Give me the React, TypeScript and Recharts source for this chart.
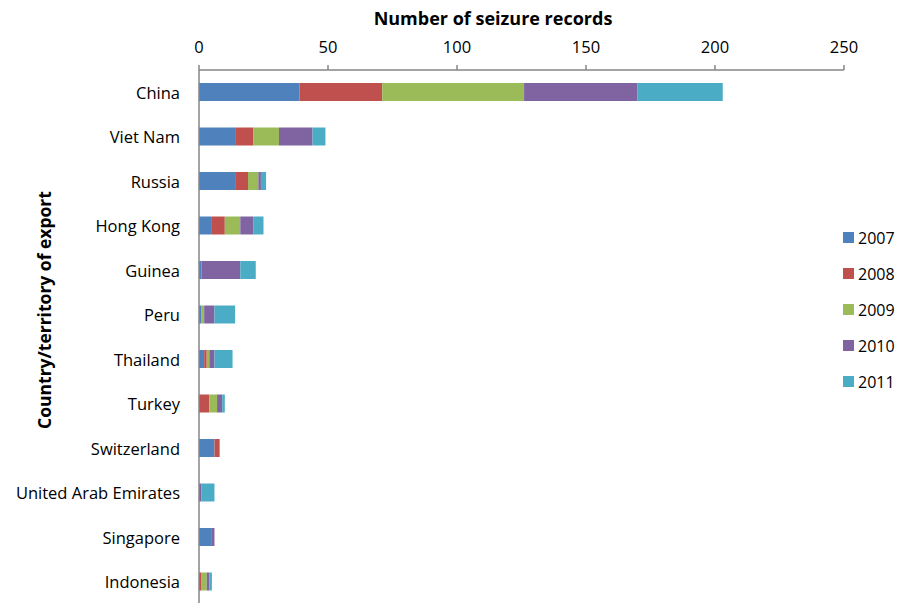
import { Bar, BarChart, XAxis, YAxis } from 'recharts'

const countries = [
  'China',
  'Viet Nam',
  'Russia',
  'Hong Kong',
  'Guinea',
  'Peru',
  'Thailand',
  'Turkey',
  'Switzerland',
  'United Arab Emirates',
  'Singapore',
  'Indonesia',
]
const years = ['2007', '2008', '2009', '2010', '2011']
const y2007 = [39, 14, 14, 5, 1, 1, 2, 0, 6, 0, 5, 0]
const y2008 = [32, 7, 5, 5, 0, 0, 1, 4, 2, 0, 0, 1]
const y2009 = [55, 10, 4, 6, 0, 1, 1, 3, 0, 0, 0, 2]
const y2010 = [44, 13, 1, 5, 15, 4, 2, 2, 0, 1, 1, 1]
const y2011 = [33, 5, 2, 4, 6, 8, 7, 1, 0, 5, 0, 1]
const xTicks = [0, 50, 100, 150, 200, 250]
// band edges, where the spreadsheet draws its category tick marks
const bandEdges = [0, 1, 2, 3, 4, 5, 6, 7, 8, 9, 10, 11, 12]

const COLORS = ['#4F81BD', '#C0504D', '#9BBB59', '#8064A2', '#4BACC6']
const FONT = '"Open Sans", sans-serif'
const AXIS = '#868686'

const W = 904
const H = 612
const M = { top: 4, right: 60, bottom: 8, left: 0 }
const PLOT_LEFT = 199
const PLOT_TOP = 70

const data = countries.map((c, i) => ({
  country: c,
  '2007': y2007[i],
  '2008': y2008[i],
  '2009': y2009[i],
  '2010': y2010[i],
  '2011': y2011[i],
}))

function CountryTick(props: { y?: number; payload?: { value: string } }) {
  return (
    <text x={PLOT_LEFT - 19} y={props.y} textAnchor="end" dominantBaseline="central" fontSize={16.5} fontFamily={FONT} fill="#000">
      {props.payload?.value}
    </text>
  )
}

function YearLegend() {
  return (
    <div style={{ position: 'absolute', left: 843, top: 220, fontFamily: FONT, fontSize: 16, color: '#000' }}>
      {years.map((yr, i) => (
        <div key={yr} style={{ display: 'flex', alignItems: 'center', height: 35.9 }}>
          <span style={{ width: 11, height: 11, background: COLORS[i], marginRight: 4, display: 'inline-block' }} />
          <span>{yr}</span>
        </div>
      ))}
    </div>
  )
}

export default function App() {
  return (
    <div style={{ margin: -8, width: W, height: H, background: '#fff', position: 'relative' }}>
      <BarChart width={W} height={H} data={data} layout="vertical" margin={M} barCategoryGap={0}>
        <XAxis
          type="number"
          orientation="top"
          domain={[0, 250]}
          ticks={xTicks}
          interval={0}
          height={PLOT_TOP - M.top}
          tickSize={5}
          tickMargin={12}
          axisLine={{ stroke: AXIS, strokeWidth: 1.5 }}
          tickLine={{ stroke: AXIS, strokeWidth: 1.5 }}
          tick={{ fill: '#000', fontSize: 16.5, fontFamily: FONT }}
          label={() => (
            <text
              x={493}
              y={18}
              textAnchor="middle"
              dominantBaseline="central"
              fontSize={18}
              fontWeight="bold"
              fontFamily={FONT}
              fill="#000"
            >
              Number of seizure records
            </text>
          )}
        />
        <YAxis
          yAxisId="edges"
          type="number"
          domain={[0, countries.length]}
          ticks={bandEdges}
          interval={0}
          width={0}
          tickSize={7}
          tick={false}
          axisLine={false}
          tickLine={{ stroke: AXIS, strokeWidth: 1.5 }}
        />
        <YAxis
          yAxisId="cat"
          type="category"
          dataKey="country"
          width={PLOT_LEFT}
          interval={0}
          tickLine={false}
          axisLine={{ stroke: AXIS, strokeWidth: 1.5 }}
          tick={CountryTick}
          label={() => (
            <text
              x={44}
              y={310}
              transform="rotate(-90 44 310)"
              textAnchor="middle"
              dominantBaseline="central"
              fontSize={17.5}
              fontWeight="bold"
              fontFamily={FONT}
              fill="#000"
            >
              Country/territory of export
            </text>
          )}
        />
        {years.map((yr, i) => (
          <Bar key={yr} yAxisId="cat" dataKey={yr} stackId="a" fill={COLORS[i]} barSize={18} isAnimationActive={false} />
        ))}
      </BarChart>
      <YearLegend />
    </div>
  )
}
